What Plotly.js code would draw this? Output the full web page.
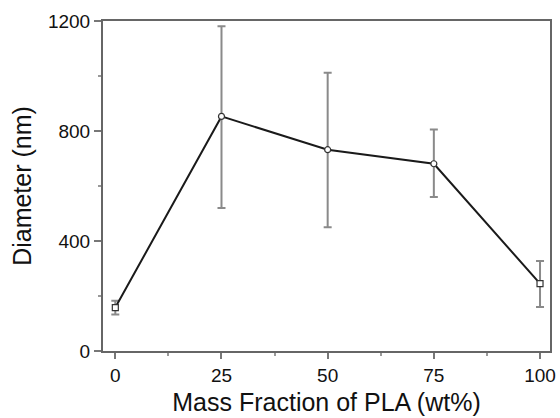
<!DOCTYPE html>
<html>
<head>
<meta charset="utf-8">
<script src="https://cdn.plot.ly/plotly-3.0.1.min.js"></script>
<style>html,body{margin:0;padding:0;background:#fff;}#chart{width:560px;height:418px;}</style>
</head>
<body>
<div id="chart"></div>
<script>
const plaFraction = [0, 25, 50, 75, 100];
const diameter = [158, 853, 732, 681, 245];
const errorUp = [25, 328, 280, 124, 82];
const errorDown = [25, 333, 282, 121, 85];
const yTickValues = [0, 400, 800, 1200];
const xTickValues = [0, 25, 50, 75, 100];

const trace = {
  x: plaFraction,
  y: diameter,
  type: 'scatter',
  mode: 'lines+markers',
  line: {color: '#1a1a1a', width: 2},
  marker: {
    symbol: ['square', 'circle', 'circle', 'circle', 'square'],
    size: 6,
    color: '#ffffff',
    line: {color: '#333333', width: 1.2}
  },
  error_y: {
    type: 'data',
    symmetric: false,
    array: errorUp,
    arrayminus: errorDown,
    color: '#8a8a8a',
    thickness: 2,
    width: 4
  },
  showlegend: false
};

const fontFam = '"Liberation Sans", Arial, sans-serif';
const layout = {
  width: 560, height: 418,
  margin: {l: 103, r: 10, t: 21, b: 67},
  paper_bgcolor: '#fff', plot_bgcolor: '#fff',
  font: {family: fontFam, color: '#111'},
  xaxis: {
    range: [-2.9, 102.35],
    tickvals: xTickValues,
    ticks: 'outside', ticklen: 6, tickwidth: 2, tickcolor: '#777',
    minor: {dtick: 12.5, tick0: 0, ticks: 'outside', ticklen: 3, tickwidth: 2, tickcolor: '#999'},
    showgrid: false, zeroline: false,
    showline: true, linecolor: '#666', linewidth: 2, mirror: true,
    tickfont: {size: 19, family: fontFam, color: '#111'},
    title: {text: 'Mass Fraction of PLA (wt%)', font: {size: 25, family: fontFam, color: '#111'}, standoff: 9}
  },
  yaxis: {
    range: [0, 1200],
    tickvals: yTickValues,
    ticks: 'outside', ticklen: 7, tickwidth: 2, tickcolor: '#777',
    minor: {dtick: 200, tick0: 0, ticks: 'outside', ticklen: 3, tickwidth: 2, tickcolor: '#999'},
    showgrid: false, zeroline: false,
    showline: true, linecolor: '#666', linewidth: 2, mirror: true,
    tickfont: {size: 19, family: fontFam, color: '#111'},
    title: {text: 'Diameter (nm)', font: {size: 25, family: fontFam, color: '#111'}, standoff: 9}
  }
};

Plotly.newPlot('chart', [trace], layout, {displayModeBar: false, staticPlot: true});
</script>
</body>
</html>
